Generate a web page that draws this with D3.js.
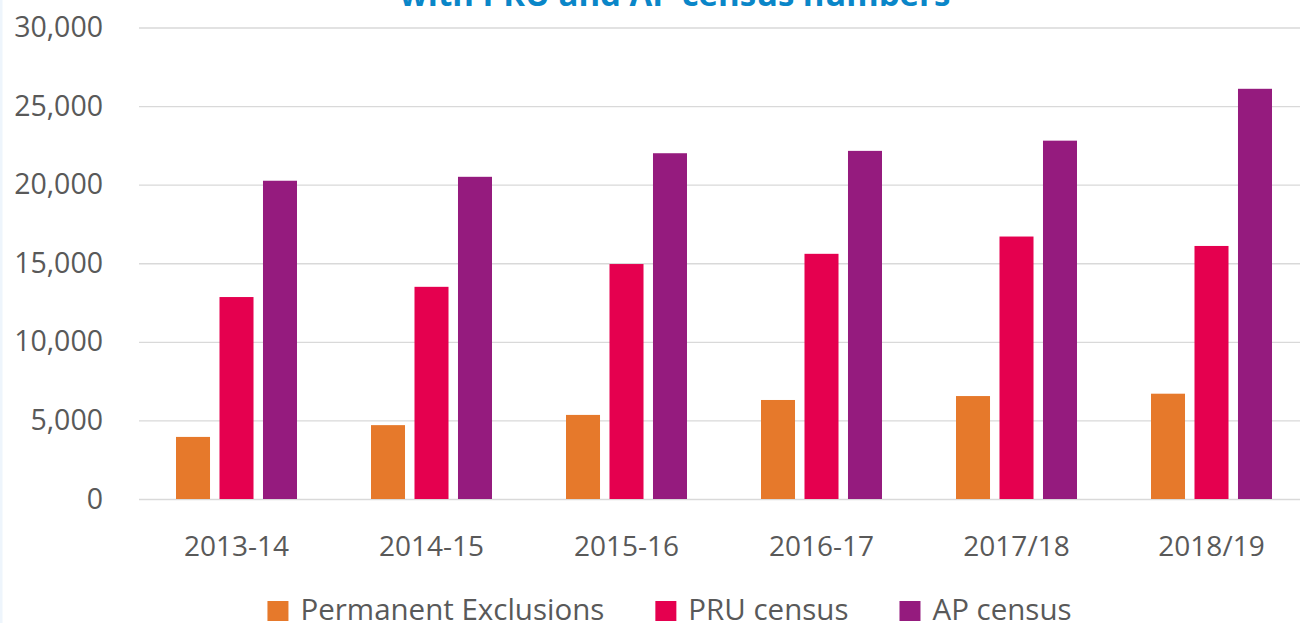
<!DOCTYPE html>
<html>
<head>
<meta charset="utf-8">
<script src="https://cdn.jsdelivr.net/npm/d3@7"></script>
<style>
html,body{margin:0;padding:0;background:#fff;}
svg{display:block;font-family:"Open Sans","Noto Sans",sans-serif;}
</style>
</head>
<body>
<svg id="chart" width="1300" height="623"></svg>
<script>
const categories = ["2013-14","2014-15","2015-16","2016-17","2017/18","2018/19"];
const seriesNames = ["Permanent Exclusions","PRU census","AP census"];
const permanentExclusions = [3950, 4700, 5350, 6300, 6550, 6700];
const pruCensus = [12850, 13500, 14950, 15600, 16700, 16100];
const apCensus = [20250, 20500, 22000, 22150, 22800, 26100];
const yTicks = [0, 5000, 10000, 15000, 20000, 25000, 30000];
const colors = ["#e6792b", "#e5004f", "#951b7e"];
const titleText = "with PRU and AP census numbers";

const seriesValues = [permanentExclusions, pruCensus, apCensus];
const svg = d3.select("#chart");
const W = 1300, H = 623;

// left faint border
svg.append("rect").attr("x",0).attr("y",0).attr("width",2.5).attr("height",H).attr("fill","#eef5fc");

const x0 = d3.scaleBand().domain(categories).range([139, 1309]).paddingInner(0).paddingOuter(0);
const innerW = 121;
const x1 = d3.scaleBand().domain(seriesNames).range([0, innerW]).paddingInner(0.218).paddingOuter(0);
const y = d3.scaleLinear().domain([0, 30000]).range([499, 27.5]);

// gridlines
const yAxis = d3.axisLeft(y).tickValues(yTicks).tickSize(-(W - 139)).tickFormat(d3.format(","));
const gy = svg.append("g").attr("transform","translate(139,0)").call(yAxis);
gy.select(".domain").remove();
gy.selectAll(".tick line").attr("stroke","#d9d9d9").attr("stroke-width",1.3);
gy.selectAll(".tick text").attr("x",-36).attr("fill","#595959").attr("font-size","28.5px")
  .style("font-family","'Open Sans',sans-serif");

// bars
const groups = svg.append("g").selectAll("g").data(categories).join("g")
  .attr("transform", d => `translate(${x0(d) + (x0.bandwidth() - innerW)/2},0)`);
groups.selectAll("rect").data((c, i) => seriesNames.map((s, j) => ({s, v: seriesValues[j][i], j})))
  .join("rect")
  .attr("x", d => x1(d.s))
  .attr("width", x1.bandwidth())
  .attr("y", d => y(d.v))
  .attr("height", d => y(0) - y(d.v))
  .attr("fill", d => colors[d.j]);

// x axis labels
const xAxis = d3.axisBottom(x0).tickSize(0).tickPadding(0);
const gx = svg.append("g").attr("transform","translate(0,499)").call(xAxis);
gx.select(".domain").remove();
gx.selectAll(".tick text").attr("dy",null).attr("y",57).attr("fill","#595959").attr("font-size","28px")
  .style("font-family","'Open Sans',sans-serif");

// title (mostly cut off at top)
svg.append("text").attr("x",675).attr("y",6).attr("text-anchor","middle")
  .attr("font-size","33px").attr("font-weight","bold").attr("fill","#0a86c8").text(titleText);

// legend
const leg = svg.append("g");
const items = leg.selectAll("g").data(seriesNames).join("g");
items.append("rect").attr("width",21).attr("height",20).attr("y",601).attr("fill",(d,i)=>colors[i]);
items.append("text").attr("x",33).attr("y",620).attr("font-size","29.5px").attr("fill","#595959").text(d=>d);
let pos = 0; const offs = [];
items.each(function(){ offs.push(pos); pos += this.getBBox().width + 51; });
const total = pos - 51;
const start = 669.5 - total/2;
items.attr("transform",(d,i)=>`translate(${start + offs[i]},0)`);
</script>
</body>
</html>
